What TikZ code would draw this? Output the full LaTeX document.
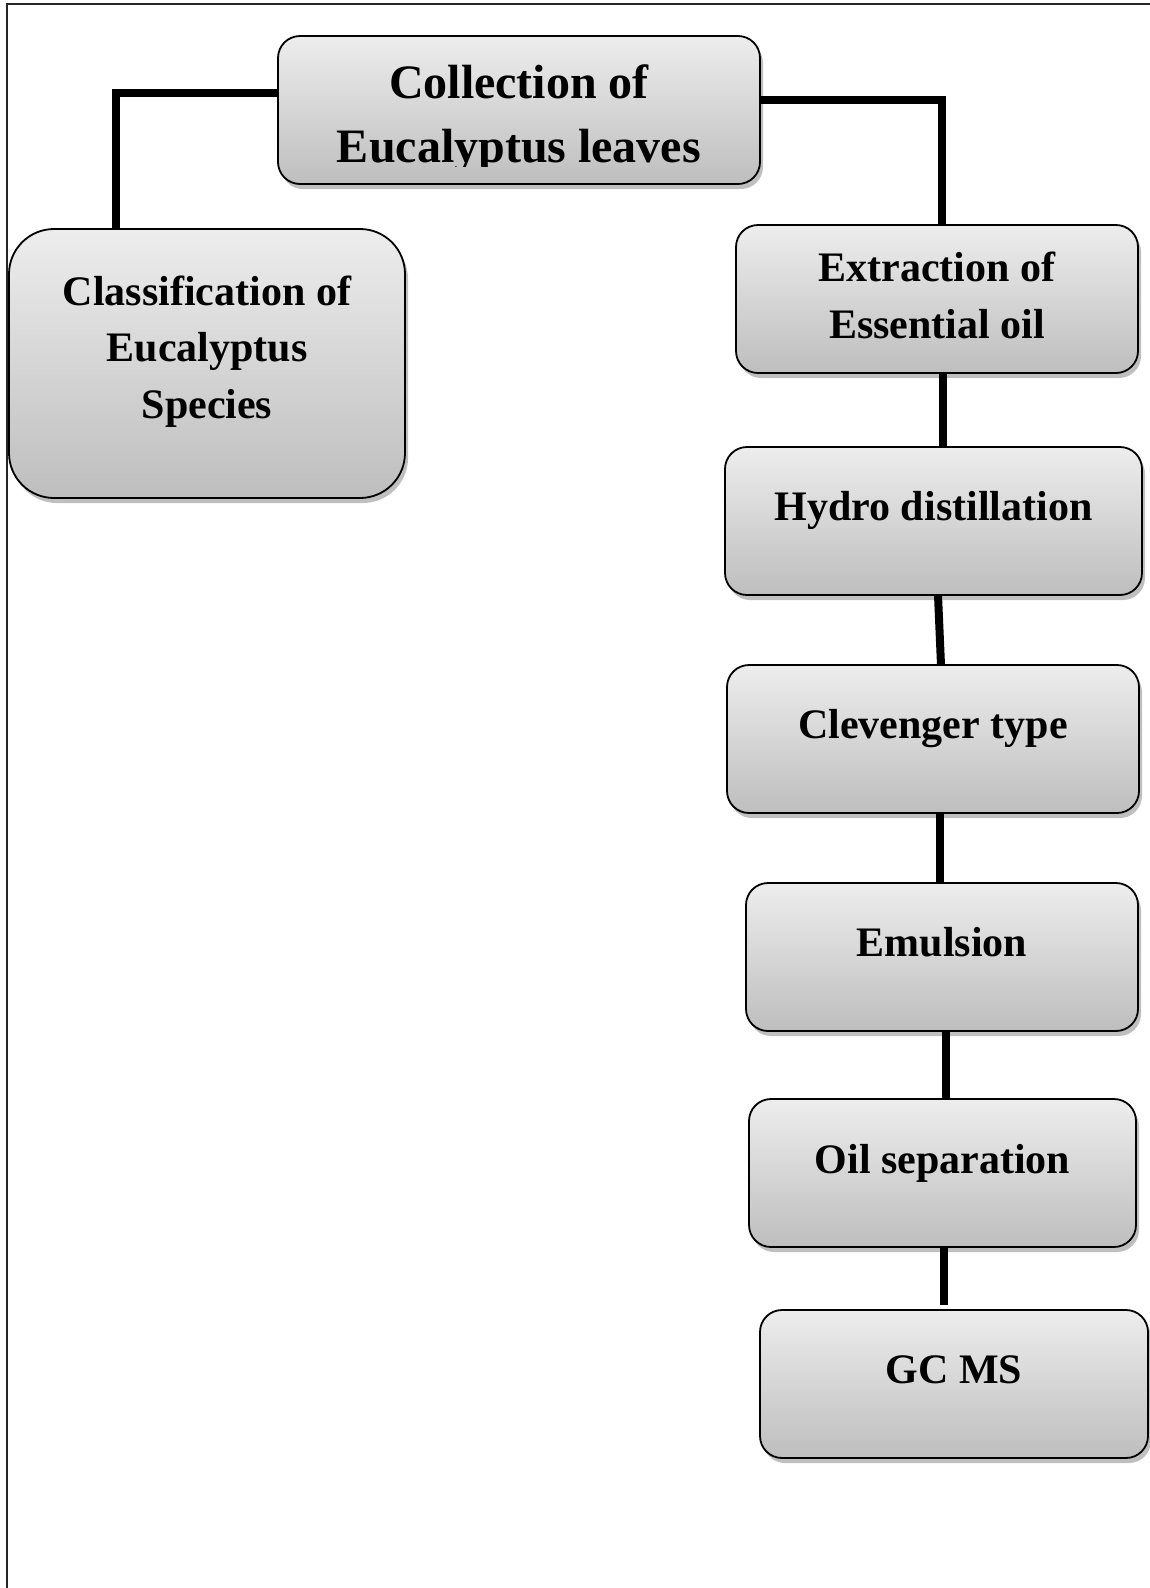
\documentclass[tikz,border=0pt]{standalone}
\usepackage{fontspec}
\setmainfont{Liberation Serif}
\usetikzlibrary{shadows}
\definecolor{boxtop}{RGB}{237,237,237}
\definecolor{boxbot}{RGB}{190,190,190}
\tikzset{
  box/.style={draw=black, line width=1.8pt, rounded corners=22pt, top color=boxtop, bottom color=boxbot,
    inner sep=0pt, outer sep=0pt, minimum height=148pt,
    drop shadow={shadow xshift=3pt, shadow yshift=-5pt, fill=black, opacity=0.25}},
  conn/.style={line width=8pt, draw=black, line join=miter},
  lbl/.style={font=\fontsize{42}{56.5}\selectfont\bfseries, align=center, inner sep=0pt, anchor=base},
  biglbl/.style={font=\fontsize{48}{64}\selectfont\bfseries, align=center, inner sep=0pt, anchor=base},
  frame/.style={line width=1.3pt, draw=black!85}
}
\begin{document}
\begin{tikzpicture}[x=1pt,y=-1pt]
\useasboundingbox (0,0) rectangle (1150,1588);
\fill[white] (0,0) rectangle (1150,1588);
% frame (top and left only)
\draw[frame] (1150,4) -- (7,4) -- (7,1588);

% boxes
\node[box, minimum width=482pt] (coll) at (519,110) {};
\node[box, minimum width=396pt, minimum height=269pt, rounded corners=45pt] (cls) at (207,363.5) {};
\node[box, minimum width=402pt] (ext) at (937,299) {};
\node[box, minimum width=417pt] (hyd) at (933.5,521) {};
\node[box, minimum width=412pt] (clev) at (933,739) {};
\node[box, minimum width=392pt] (emu) at (942,957) {};
\node[box, minimum width=387pt] (oil) at (942.5,1173) {};
\node[box, minimum width=388pt] (gc) at (954,1384) {};

% texts (anchor base = baseline of the last line)
\begin{scope}
\clip (270,30) rectangle (770,166);
\node[biglbl] (tcoll) at ([yshift=-126pt]coll.north) {Collection of\\Eucalyptus leaves};
\end{scope}
\node[lbl] (tcls) at ([yshift=-189pt]cls.north) {Classification of\\Eucalyptus\\Species};
\node[lbl] (text) at ([yshift=-113pt]ext.north) {Extraction of\\Essential oil};
\node[lbl] (thyd) at ([yshift=-73pt]hyd.north) {Hydro distillation};
\node[lbl] (tclev) at ([yshift=-73pt]clev.north) {Clevenger type};
\node[lbl] (temu) at ([yshift=-73pt]emu.north) {Emulsion};
\node[lbl] (toil) at ([yshift=-74pt]oil.north) {Oil separation};
\node[lbl] (tgc) at ([yshift=-73pt]gc.north) {GC MS};

% connectors
\draw[conn] ([yshift=17pt]coll.west) -| ([xshift=-91pt]cls.north);
\draw[conn] ([yshift=10pt]coll.east) -| ([xshift=5pt]ext.north);
\draw[conn] ([xshift=6pt]ext.south) -- ([xshift=9.5pt]hyd.north);
\draw[conn] ([xshift=4.5pt]hyd.south) -- ([xshift=8pt]clev.north);
\draw[conn] ([xshift=7pt]clev.south) -- ([xshift=-2pt]emu.north);
\draw[conn] ([xshift=4pt]emu.south) -- ([xshift=3.5pt]oil.north);
\draw[conn] ([xshift=1.5pt]oil.south) -- ([xshift=-10pt,yshift=5pt]gc.north);
\end{tikzpicture}
\end{document}
